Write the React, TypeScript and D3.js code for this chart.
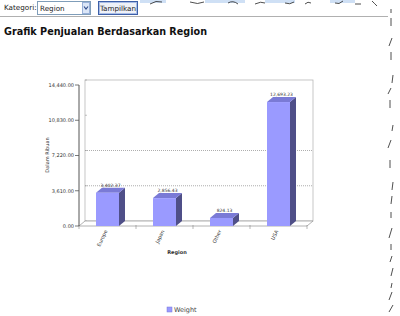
import React from "react";
import * as d3 from "d3";

const categories = ["Europe", "Japan", "Other", "USA"];
const values = [3402.37, 2856.43, 824.13, 12693.23];
const valueLabels = ["3,402.37", "2,856.43", "824.13", "12,693.23"];
const yTicks = [0, 3610, 7220, 10830, 14440];
const gridTicks = [3610, 7220];
const seriesName = "Weight";

const W = 400, H = 316;
const X0 = 79, X1 = 307, YB = 226, YT = 85;
const DX = 6, DY = 5;

export default function App() {
  const y = d3.scaleLinear().domain([0, 14440]).range([YB, YT]);
  const x = d3.scaleBand().domain(categories).range([X0, X1]).paddingInner(0.6).paddingOuter(0.3);
  const fmt = d3.format(",.2f");
  const bw = 23;
  const boundaries = d3.range(categories.length + 1).map(i => X0 + (i * (X1 - X0)) / categories.length);
  return (
    <svg width={W} height={H} style={{ position: "absolute", left: 0, top: 0, background: "#fff" }}
      fontFamily="Tahoma, 'DejaVu Sans', sans-serif">
      <rect width={W} height={H} fill="#fff" />
      {/* top partial UI */}
      <g>
        <rect x={140} y={0} width={26} height={3} fill="#cfe0f5" />
        <rect x={205} y={0} width={40} height={3} fill="#cfe0f5" />
        <rect x={265} y={0} width={30} height={3} fill="#cfe0f5" />
        <rect x={330} y={0} width={25} height={3} fill="#cfe0f5" />
        <path d="M150,4 q6,-4 12,-2 M190,2 q8,3 14,0 M228,3 q5,-3 10,1 M255,4 q6,-3 10,-1 M285,3 q5,2 9,-1 M305,4 q3,-3 6,-1 M335,3 q4,2 8,-2 M372,1 q3,3 5,5 M355,4 l6,0" stroke="#222" strokeWidth={0.8} fill="none" />
      </g>
      <text x={4} y={10} fontSize={7.2} fill="#222">Kategori:</text>
      <rect x={37.5} y={1.5} width={53} height={13} fill="#fff" stroke="#7f9db9" />
      <text x={40} y={10.5} fontSize={7.2} fill="#222">Region</text>
      <rect x={82.5} y={2.5} width={7} height={11} fill="#dbe6f7" stroke="#98b0d8" />
      <path d="M84,6.5 L86,9 L88,6.5" stroke="#304d8c" strokeWidth={1.2} fill="none" />
      <rect x={98.5} y={1.5} width={39} height={13} fill="#eef1f8" stroke="#3c5fa8" />
      <rect x={99.5} y={2.5} width={37} height={11} fill="none" stroke="#a9bde6" />
      <text x={118} y={10.5} fontSize={7.2} fill="#222" textAnchor="middle">Tampilkan</text>
      <line x1={0} y1={16.5} x2={388} y2={16.5} stroke="#b0b0b0" />
      {/* right jagged dashes */}
      <path d="M391,9 l0,4 M391,18 l0,8 M392,38 l-3,8 M391,52 l0,8 M393,75 l-1,8 M391,88 l-3,6 M390,100 l0,8 M393,125 l-1,6 M391,140 l-3,8 M390,160 l0,8 M393,182 l-1,8 M392,196 l-1,8 M391,212 l0,6 M392,228 l-3,10 M391,244 l0,6 M392,256 l-2,6 M393,268 l-2,8 M392,283 l-1,5 M392,292 l-3,8 M393,305 l-4,7" stroke="#222" strokeWidth={0.8} fill="none" />
      <text x={4} y={35} fontSize={11} fontWeight="bold" fill="#111" textLength={203} lengthAdjust="spacingAndGlyphs">Grafik Penjualan Berdasarkan Region</text>

      {/* back wall */}
      <rect x={X0 + DX} y={YT - DY} width={X1 - X0} height={YB - YT} fill="#fff" stroke="#b8b8b8" strokeWidth={0.8} />
      {gridTicks.map(t => (
        <line key={t} x1={X0 + DX} x2={X1 + DX} y1={y(t) - DY} y2={y(t) - DY} stroke="#999" strokeWidth={0.8} strokeDasharray="1,1" />
      ))}
      {yTicks.map(t => (
        <line key={"bt" + t} x1={X0 + DX} x2={X0 + DX + 2} y1={y(t) - DY} y2={y(t) - DY} stroke="#999" strokeWidth={0.6} />
      ))}
      {/* floor */}
      <path d={`M${X0},${YB} L${X0 + DX},${YB - DY} L${X1 + DX},${YB - DY} L${X1},${YB} Z`} fill="#fff" stroke="#a0a0a0" strokeWidth={0.8} />
      {boundaries.map((b, i) => (
        <line key={"ft" + i} x1={b} x2={b} y1={YB - 1} y2={YB + 3} stroke="#888" strokeWidth={0.6} />
      ))}
      {/* y axis */}
      <line x1={X0} x2={X0} y1={YT} y2={YB} stroke="#555" strokeWidth={1} />
      {yTicks.map(t => (
        <g key={"yt" + t}>
          <line x1={X0 - 4} x2={X0} y1={y(t)} y2={y(t)} stroke="#555" strokeWidth={0.8} />
          <text x={X0 - 5} y={y(t) + 1.8} fontSize={5} textAnchor="end" fill="#333">{fmt(t)}</text>
        </g>
      ))}
      <text transform="translate(49,155) rotate(-90)" fontSize={5} textAnchor="middle" fill="#333">Dalam Ribuan</text>

      {/* bars */}
      {categories.map((c, i) => {
        const cx = (x(c) as number) + x.bandwidth() / 2;
        const x0 = cx - bw / 2, x1 = cx + bw / 2;
        const yt = y(values[i]);
        return (
          <g key={c}>
            <polygon points={`${x1},${yt} ${x1 + DX},${yt - DY} ${x1 + DX},${YB - DY} ${x1},${YB}`} fill="#4f4f88" />
            <polygon points={`${x0},${yt} ${x0 + DX},${yt - DY} ${x1 + DX},${yt - DY} ${x1},${yt}`} fill="#7a7ad6" />
            <rect x={x0} y={yt} width={bw} height={YB - yt} fill="#9a9aff" />
            <text x={cx + DX / 2} y={yt - DY - 1} fontSize={4.5} textAnchor="middle" fill="#333">{valueLabels[i]}</text>
            <text transform={`translate(${cx},${YB + 5}) rotate(-65)`} fontSize={5} textAnchor="end" fill="#333">{c}</text>
          </g>
        );
      })}
      <text x={177} y={254} fontSize={5} fontWeight="bold" textAnchor="middle" fill="#333">Region</text>

      {/* legend */}
      <rect x={167} y={307} width={5} height={5} fill="#9a9aff" stroke="#7a7ad6" strokeWidth={0.5} />
      <text x={174} y={312} fontSize={6.5} fill="#444">{seriesName}</text>
    </svg>
  );
}
